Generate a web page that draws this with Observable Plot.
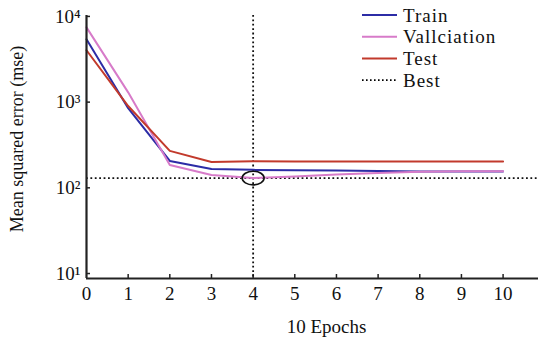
<!DOCTYPE html>
<html>
<head>
<meta charset="utf-8">
<script src="https://cdn.jsdelivr.net/npm/d3@7"></script>
<script src="https://cdn.jsdelivr.net/npm/@observablehq/plot@0.6"></script>
<style>
  html, body { margin: 0; padding: 0; background: #fff; }
  #wrap { position: relative; width: 538px; height: 342px; overflow: hidden; }
  #legend { position: absolute; left: 0; top: 0; }
</style>
</head>
<body>
<div id="wrap"></div>
<script>
const epochs = [0, 1, 2, 3, 4, 5, 6, 7, 8, 9, 10];
const train = [5400, 850, 206, 166, 162, 160, 159, 157, 155, 155, 155];
const validation = [7450, 1300, 185, 141, 130, 136, 143, 149, 154, 156, 156];
const test = [4030, 900, 270, 200, 204, 203, 203, 203, 203, 203, 203];
const bestEpoch = 4;
const bestValue = 130;
const xTicks = [0, 1, 2, 3, 4, 5, 6, 7, 8, 9, 10];
const yTicks = [10, 100, 1000, 10000];
const yTickLabels = ["10¹", "10²", "10³", "10⁴"];
const seriesNames = ["Train", "Vallciation", "Test", "Best"];
const seriesColors = ["#2c2ca6", "#d77bc9", "#c23a2c", "#000"];

const rows = [];
epochs.forEach((e, i) => {
  rows.push({epoch: e, value: train[i], series: seriesNames[0]});
  rows.push({epoch: e, value: validation[i], series: seriesNames[1]});
  rows.push({epoch: e, value: test[i], series: seriesNames[2]});
});

const ellipse = {
  draw(ctx) {
    const rx = 11, ry = 6.8, k = 0.5523;
    ctx.moveTo(rx, 0);
    ctx.bezierCurveTo(rx, ry * k, rx * k, ry, 0, ry);
    ctx.bezierCurveTo(-rx * k, ry, -rx, ry * k, -rx, 0);
    ctx.bezierCurveTo(-rx, -ry * k, -rx * k, -ry, 0, -ry);
    ctx.bezierCurveTo(rx * k, -ry, rx, -ry * k, rx, 0);
    ctx.closePath();
  }
};

const fontSerif = "'Liberation Serif', 'DejaVu Serif', serif";

const plot = Plot.plot({
  width: 538,
  height: 342,
  marginLeft: 86,
  marginRight: 0,
  marginTop: 15,
  marginBottom: 64,
  style: {fontFamily: fontSerif, fontSize: "18px", background: "#fff", color: "#111"},
  x: {domain: [0, 10.85]},
  y: {type: "log", domain: [8.75, 10250]},
  color: {domain: seriesNames.slice(0, 3), range: seriesColors.slice(0, 3)},
  marks: [
    Plot.axisX({ticks: xTicks, tickSize: 0, tickPadding: 8, label: null, fontSize: 19}),
    Plot.axisY({ticks: yTicks, tickSize: 0, tickPadding: 6, tickFormat: (d) => yTickLabels[yTicks.indexOf(d)], label: null, fontSize: 19}),
    Plot.tickX(xTicks.slice(1), {x: (d) => d, insetTop: 259, stroke: "#222", strokeWidth: 1.5}),
    Plot.tickY(yTicks, {y: (d) => d, insetRight: 448, stroke: "#222", strokeWidth: 1.5}),
    Plot.ruleY([bestValue], {stroke: "#111", strokeWidth: 1.8, strokeDasharray: "1.8,2.6"}),
    Plot.ruleX([bestEpoch], {stroke: "#111", strokeWidth: 1.8, strokeDasharray: "1.8,2.6"}),
    Plot.line(rows, {x: "epoch", y: "value", z: "series", stroke: "series", strokeWidth: 2}),
    Plot.dot([{epoch: bestEpoch, value: bestValue}], {x: "epoch", y: "value", symbol: ellipse, r: 1, stroke: "#111", strokeWidth: 1.6, fill: "none"}),
    Plot.ruleX([0], {stroke: "#222", strokeWidth: 2.2}),
    Plot.ruleY([8.75], {stroke: "#222", strokeWidth: 2.2}),
    Plot.text(["Mean squared error (mse)"], {frameAnchor: "left", textAnchor: "middle", rotate: -90, dx: -69, dy: -8, fontSize: 18, fill: "#111"}),
    Plot.text(["10 Epochs"], {frameAnchor: "bottom", dy: 54, dx: 14, fontSize: 19, fill: "#111"})
  ]
});

const wrap = document.getElementById("wrap");
wrap.appendChild(plot);

// legend
const leg = d3.select(wrap).append("svg")
  .attr("id", "legend").attr("width", 538).attr("height", 342);
seriesNames.forEach((name, i) => {
  const cy = 15 + i * 21.7;
  const g = leg.append("g").attr("transform", `translate(362,${cy})`);
  g.append("line").attr("x1", 0).attr("x2", 35).attr("y1", 0).attr("y2", 0)
    .attr("stroke", seriesColors[i]).attr("stroke-width", i === 3 ? 1.6 : 2)
    .attr("stroke-dasharray", i === 3 ? "1.6,2.4" : null);
  g.append("text").attr("x", 41).attr("y", 0).attr("dy", "0.35em")
    .attr("font-family", fontSerif).attr("font-size", 19)
    .attr("letter-spacing", 1).attr("fill", "#111").text(name);
});
</script>
</body>
</html>
